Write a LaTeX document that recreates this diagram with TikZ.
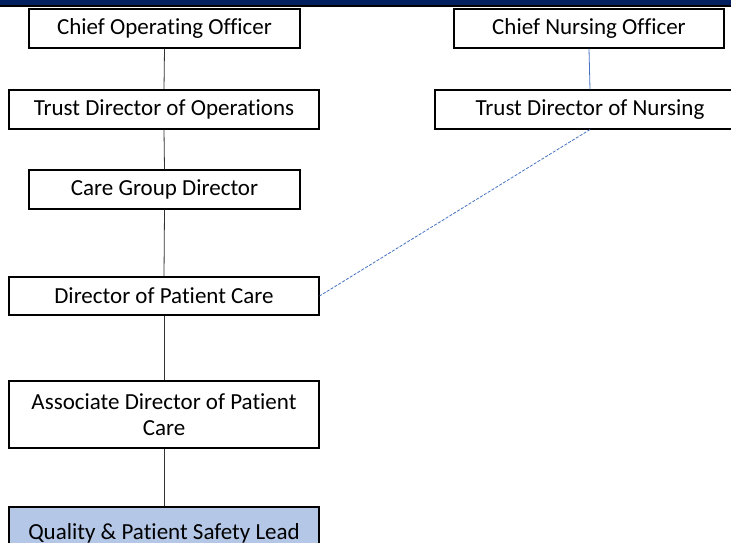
\documentclass[tikz,border=0pt]{standalone}
\usepackage{fontspec}
\setmainfont{Carlito}[Ligatures=CommonOff]
\usepackage{tikz}
\usetikzlibrary{positioning}
\definecolor{navy}{HTML}{002060}
\definecolor{lineblue}{HTML}{4472C4}
\definecolor{leadfill}{HTML}{B4C7E7}
\begin{document}
\begin{tikzpicture}[x=1pt, y=-1pt,
post/.style = {draw=black, line width=1.1pt, fill=white, align=center,
               inner sep=2pt, minimum height=39pt,
               font=\fontsize{23}{26}\selectfont},
wide/.style = {post, minimum width=310pt},
narrow/.style = {post, minimum width=271pt},
link/.style = {draw=black!80, line width=0.8pt}
                        ]
\useasboundingbox (0,0) rectangle (731,542);
\fill[navy] (0,0) rectangle (731,5);
\fill[black] (0,5) rectangle (731,7);
% left column
\node (coo) [narrow] at (164.5,28.5) {Chief Operating Officer};
\node (tdo) [wide] at (164,109.5) {Trust Director of Operations};
\node (cgd) [narrow] at (164.5,189.5) {Care Group Director};
\node (dpc) [wide, minimum height=38pt] at (164,296) {Director of Patient Care};
\node (adpc) [wide, minimum height=67pt] at (164,414.5)
      {Associate Director of Patient\\ Care};
\node (qpsl) [wide, fill=leadfill, minimum height=52pt] at (164,533)
      {Quality \& Patient Safety Lead};
% right column
\node (cno) [post, minimum width=270pt] at (589,28.5) {Chief Nursing Officer};
\node (tdn) [wide] at (590,109.5) {Trust Director of Nursing};
%\draw (coo) -- (tdo);
\draw[link] (coo.south) -- (tdo.north);
\draw[link] (tdo.south) -- (cgd.north);
\draw[link] (cgd.south) -- (dpc.north);
\draw[link] (dpc.south) -- (adpc.north);
\draw[link] (adpc.south) -- (qpsl.north);
\draw[link, draw=lineblue] (cno.south) -- (tdn.north);
\draw[lineblue, line width=0.8pt, dashed, dash pattern=on 3pt off 1.5pt]
      (tdn.south) -- (dpc.east);
\end{tikzpicture}
\end{document}
